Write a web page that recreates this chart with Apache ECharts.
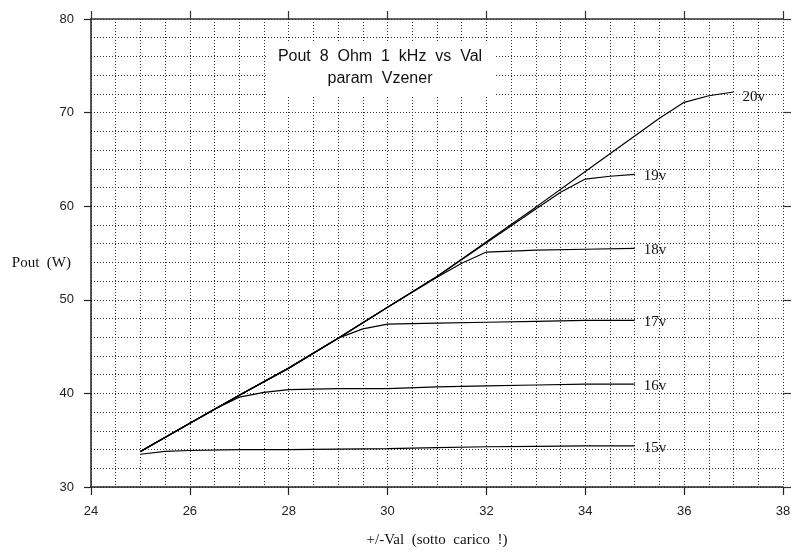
<!DOCTYPE html>
<html>
<head>
<meta charset="utf-8">
<script src="https://cdn.jsdelivr.net/npm/echarts@6/dist/echarts.min.js"></script>
<style>
  html, body { margin: 0; padding: 0; background: #ffffff; }
  #chart { width: 800px; height: 560px; }
</style>
</head>
<body>
<div id="chart"></div>
<script>
// ---- data ----
const titleLines = ['Pout  8  Ohm  1  kHz  vs  Val', 'param  Vzener'];
const xAxisName = '+/-Val  (sotto  carico  !)';
const yAxisName = 'Pout  (W)';
const xTicks = [24, 26, 28, 30, 32, 34, 36, 38];
const yTicks = [30, 40, 50, 60, 70, 80];

const x20 = [25, 26, 27, 28, 29, 30, 31, 32, 33, 34, 35, 35.5, 36, 36.5, 37];
const y20 = [33.8, 36.8, 39.8, 42.7, 45.9, 49.2, 52.5, 56.2, 59.9, 63.7, 67.5, 69.4, 71.1, 71.8, 72.2];

const x19 = [25, 26, 27, 28, 29, 30, 31, 32, 33, 33.5, 34, 34.5, 35];
const y19 = [33.8, 36.8, 39.8, 42.7, 45.9, 49.2, 52.5, 56.1, 59.7, 61.5, 62.9, 63.2, 63.4];

const x18 = [25, 26, 27, 28, 29, 30, 31, 31.5, 32, 33, 34, 35];
const y18 = [33.8, 36.8, 39.8, 42.7, 45.9, 49.2, 52.4, 53.9, 55.1, 55.3, 55.4, 55.5];

const x17 = [25, 26, 27, 28, 29, 29.5, 30, 31, 32, 33, 34, 35];
const y17 = [33.8, 36.8, 39.8, 42.7, 45.9, 46.9, 47.4, 47.5, 47.6, 47.7, 47.8, 47.8];

const x16 = [25, 26, 26.5, 27, 27.5, 28, 29, 30, 31, 32, 33, 34, 35];
const y16 = [33.8, 36.8, 38.3, 39.6, 40.1, 40.4, 40.5, 40.5, 40.7, 40.8, 40.9, 41.0, 41.0];

const x15 = [25, 25.5, 26, 27, 28, 29, 30, 31, 32, 33, 34, 35];
const y15 = [33.5, 33.8, 33.9, 34.0, 34.0, 34.05, 34.1, 34.2, 34.3, 34.35, 34.4, 34.4];

const seriesNames = ['20v', '19v', '18v', '17v', '16v', '15v'];
const seriesX = [x20, x19, x18, x17, x16, x15];
const seriesY = [y20, y19, y18, y17, y16, y15];

// ---- chart ----
const serif = "'Liberation Serif', 'Times New Roman', serif";
const sans = "'Liberation Sans', Arial, Helvetica, sans-serif";
const gridDash = { color: '#333', width: 1, type: [1, 2] };

const chart = echarts.init(document.getElementById('chart'), null, { renderer: 'canvas' });

const series = seriesNames.map((name, i) => ({
  name: name,
  type: 'line',
  xAxisIndex: 0,
  yAxisIndex: 0,
  data: seriesX[i].map((x, j) => [x, seriesY[i][j]]),
  symbol: 'none',
  smooth: false,
  lineStyle: { color: '#000', width: 1.2 },
  z: 5,
  endLabel: {
    show: true,
    formatter: name,
    fontFamily: serif,
    fontSize: 15,
    color: '#111',
    distance: 9,
    offset: [0, i === 0 ? 5 : 2]
  }
}));

chart.setOption({
  animation: false,
  backgroundColor: '#ffffff',
  title: {
    text: titleLines.join('\n'),
    left: 368,
    top: 42,
    textAlign: 'center',
    backgroundColor: '#ffffff',
    padding: [4, 12, 6, 12],
    textStyle: {
      fontFamily: sans,
      fontSize: 16,
      fontWeight: 'normal',
      color: '#111',
      lineHeight: 22
    },
    z: 10
  },
  grid: { left: 91, right: 17, top: 19, bottom: 73, containLabel: false },
  xAxis: [
    {
      type: 'value',
      position: 'bottom',
      min: xTicks[0],
      max: xTicks[xTicks.length - 1],
      interval: 2,
      name: xAxisName,
      nameLocation: 'middle',
      nameGap: 46,
      nameMoveOverlap: false,
      nameTextStyle: { fontFamily: serif, fontSize: 15, color: '#111' },
      axisLine: { show: true, onZero: false, lineStyle: { color: '#222', width: 1.5 } },
      axisTick: { show: true, inside: false, length: 8, lineStyle: { color: '#222', width: 1.2 } },
      axisLabel: { show: true, margin: 18, fontFamily: sans, fontSize: 13, color: '#222' },
      splitLine: { show: true, lineStyle: gridDash },
      minorTick: { show: false, splitNumber: 4 },
      minorSplitLine: { show: true, lineStyle: gridDash }
    },
    {
      type: 'value',
      position: 'top',
      min: xTicks[0],
      max: xTicks[xTicks.length - 1],
      interval: 2,
      axisLine: { show: true, onZero: false, lineStyle: { color: '#333', width: 1.5 } },
      axisTick: { show: true, inside: false, length: 8, lineStyle: { color: '#333', width: 1.2 } },
      axisLabel: { show: false },
      splitLine: { show: false }
    }
  ],
  yAxis: [
    {
      type: 'value',
      position: 'left',
      min: yTicks[0],
      max: yTicks[yTicks.length - 1],
      interval: 10,
      name: yAxisName,
      nameLocation: 'middle',
      nameRotate: 0,
      nameGap: 20,
      nameMoveOverlap: false,
      nameTextStyle: { fontFamily: serif, fontSize: 15, color: '#111', verticalAlign: 'top', padding: [3, 0, 0, 0] },
      axisLine: { show: true, onZero: false, lineStyle: { color: '#222', width: 1.5 } },
      axisTick: { show: true, inside: false, length: 7, lineStyle: { color: '#222', width: 1.2 } },
      axisLabel: { show: true, margin: 17, fontFamily: sans, fontSize: 13, color: '#222' },
      splitLine: { show: true, lineStyle: gridDash },
      minorTick: { show: false, splitNumber: 5 },
      minorSplitLine: { show: true, lineStyle: gridDash }
    },
    {
      type: 'value',
      position: 'right',
      min: yTicks[0],
      max: yTicks[yTicks.length - 1],
      interval: 10,
      axisLine: { show: false },
      axisTick: { show: true, inside: false, length: 8, lineStyle: { color: '#333', width: 1.2 } },
      axisLabel: { show: false },
      splitLine: { show: false }
    }
  ],
  series: series
});
</script>
</body>
</html>
